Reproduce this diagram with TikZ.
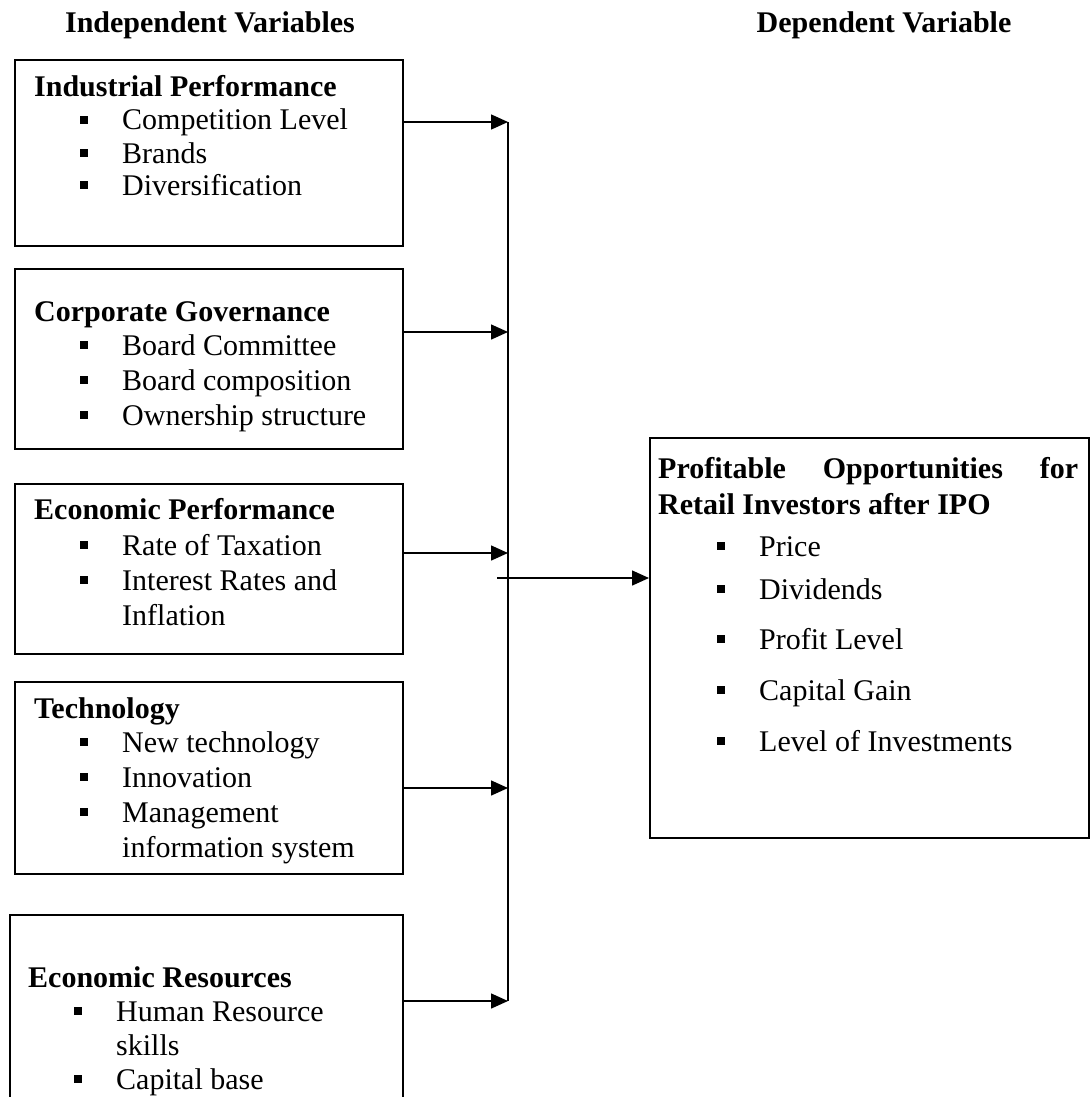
\documentclass[tikz,border=0pt]{standalone}
\usepackage{fontspec}
\setmainfont{Liberation Serif}
\usetikzlibrary{arrows.meta}
\newcommand\bitem[4]{%
  \node[sq] (#3s) at (#1,#2-10) {};
  \node[txt] (#3) at (#1+38,#2) {#4};}
\begin{document}
\begin{tikzpicture}[x=1pt,y=-1pt,
  box/.style={draw, line width=1.8pt, rectangle, inner sep=0, anchor=north west},
  txt/.style={inner sep=0, anchor=base west, font=\fontsize{30}{34}\selectfont},
  hd/.style={inner sep=0, anchor=base west, font=\fontsize{30}{34}\selectfont\bfseries},
  sq/.style={fill, inner sep=0, minimum size=8.5pt, rectangle},
  conn/.style={line width=1.5pt},
  arr/.style={conn, -{Triangle[length=17pt,width=15pt]}}]
\useasboundingbox (0,0) rectangle (1090,1097);
\clip (0,0) rectangle (1090,1097);

% headers
\node[hd, anchor=base] (hind) at (210,33) {Independent Variables};
\node[hd, anchor=base] (hdep) at (884,33) {Dependent Variable};

% box 1
\node[box, minimum width=388pt, minimum height=186pt] (b1) at (14,59) {};
\node[hd] (h1) at (34,97) {Industrial Performance};
\bitem{84}{130}{i11}{Competition Level}
\bitem{84}{163}{i12}{Brands}
\bitem{84}{195}{i13}{Diversification}

% box 2
\node[box, minimum width=388pt, minimum height=180pt] (b2) at (14,268) {};
\node[hd] (h2) at (34,321) {Corporate Governance};
\bitem{84}{355}{i21}{Board Committee}
\bitem{84}{390}{i22}{Board composition}
\bitem{84}{425}{i23}{Ownership structure}

% box 3
\node[box, minimum width=388pt, minimum height=170pt] (b3) at (14,483) {};
\node[hd] (h3) at (34,519) {Economic Performance};
\bitem{84}{555}{i31}{Rate of Taxation}
\bitem{84}{590}{i32}{Interest Rates and}
\node[txt] (i33) at (122,625) {Inflation};

% box 4
\node[box, minimum width=388pt, minimum height=192pt] (b4) at (14,681) {};
\node[hd] (h4) at (34,718) {Technology};
\bitem{84}{752}{i41}{New technology}
\bitem{84}{787}{i42}{Innovation}
\bitem{84}{822}{i43}{Management}
\node[txt] (i44) at (122,857) {information system};

% box 5
\node[box, minimum width=393pt, minimum height=200pt] (b5) at (9,914) {};
\node[hd] (h5) at (28,987) {Economic Resources};
\bitem{78}{1021}{i51}{Human Resource}
\node[txt] (i52) at (116,1055) {skills};
\bitem{78}{1089}{i53}{Capital base}

% dependent box
\node[box, line width=2.2pt, minimum width=439pt, minimum height=400pt] (rb) at (649,437) {};
\node[hd] (rh1) at (658,478) {\makebox[420pt][s]{Profitable Opportunities for}};
\node[hd] (rh2) at (658,514) {Retail Investors after IPO};
\bitem{721}{556}{r1}{Price}
\bitem{721}{599}{r2}{Dividends}
\bitem{721}{649}{r3}{Profit Level}
\bitem{721}{700}{r4}{Capital Gain}
\bitem{721}{751}{r5}{Level of Investments}

% connectors
\coordinate (j1) at (508,122);
\coordinate (j2) at (508,332);
\coordinate (j3) at (508,553);
\coordinate (j4) at (508,788);
\coordinate (j5) at (508,1001);
\coordinate (s) at (497,578);
\draw[conn] (j1) -- (j5);
\draw[arr] (j1 -| b1.east) -- (j1);
\draw[arr] (j2 -| b2.east) -- (j2);
\draw[arr] (j3 -| b3.east) -- (j3);
\draw[arr] (j4 -| b4.east) -- (j4);
\draw[arr] (j5 -| b5.east) -- (j5);
\draw[arr] (s) -- (s -| rb.west);
\end{tikzpicture}
\end{document}
